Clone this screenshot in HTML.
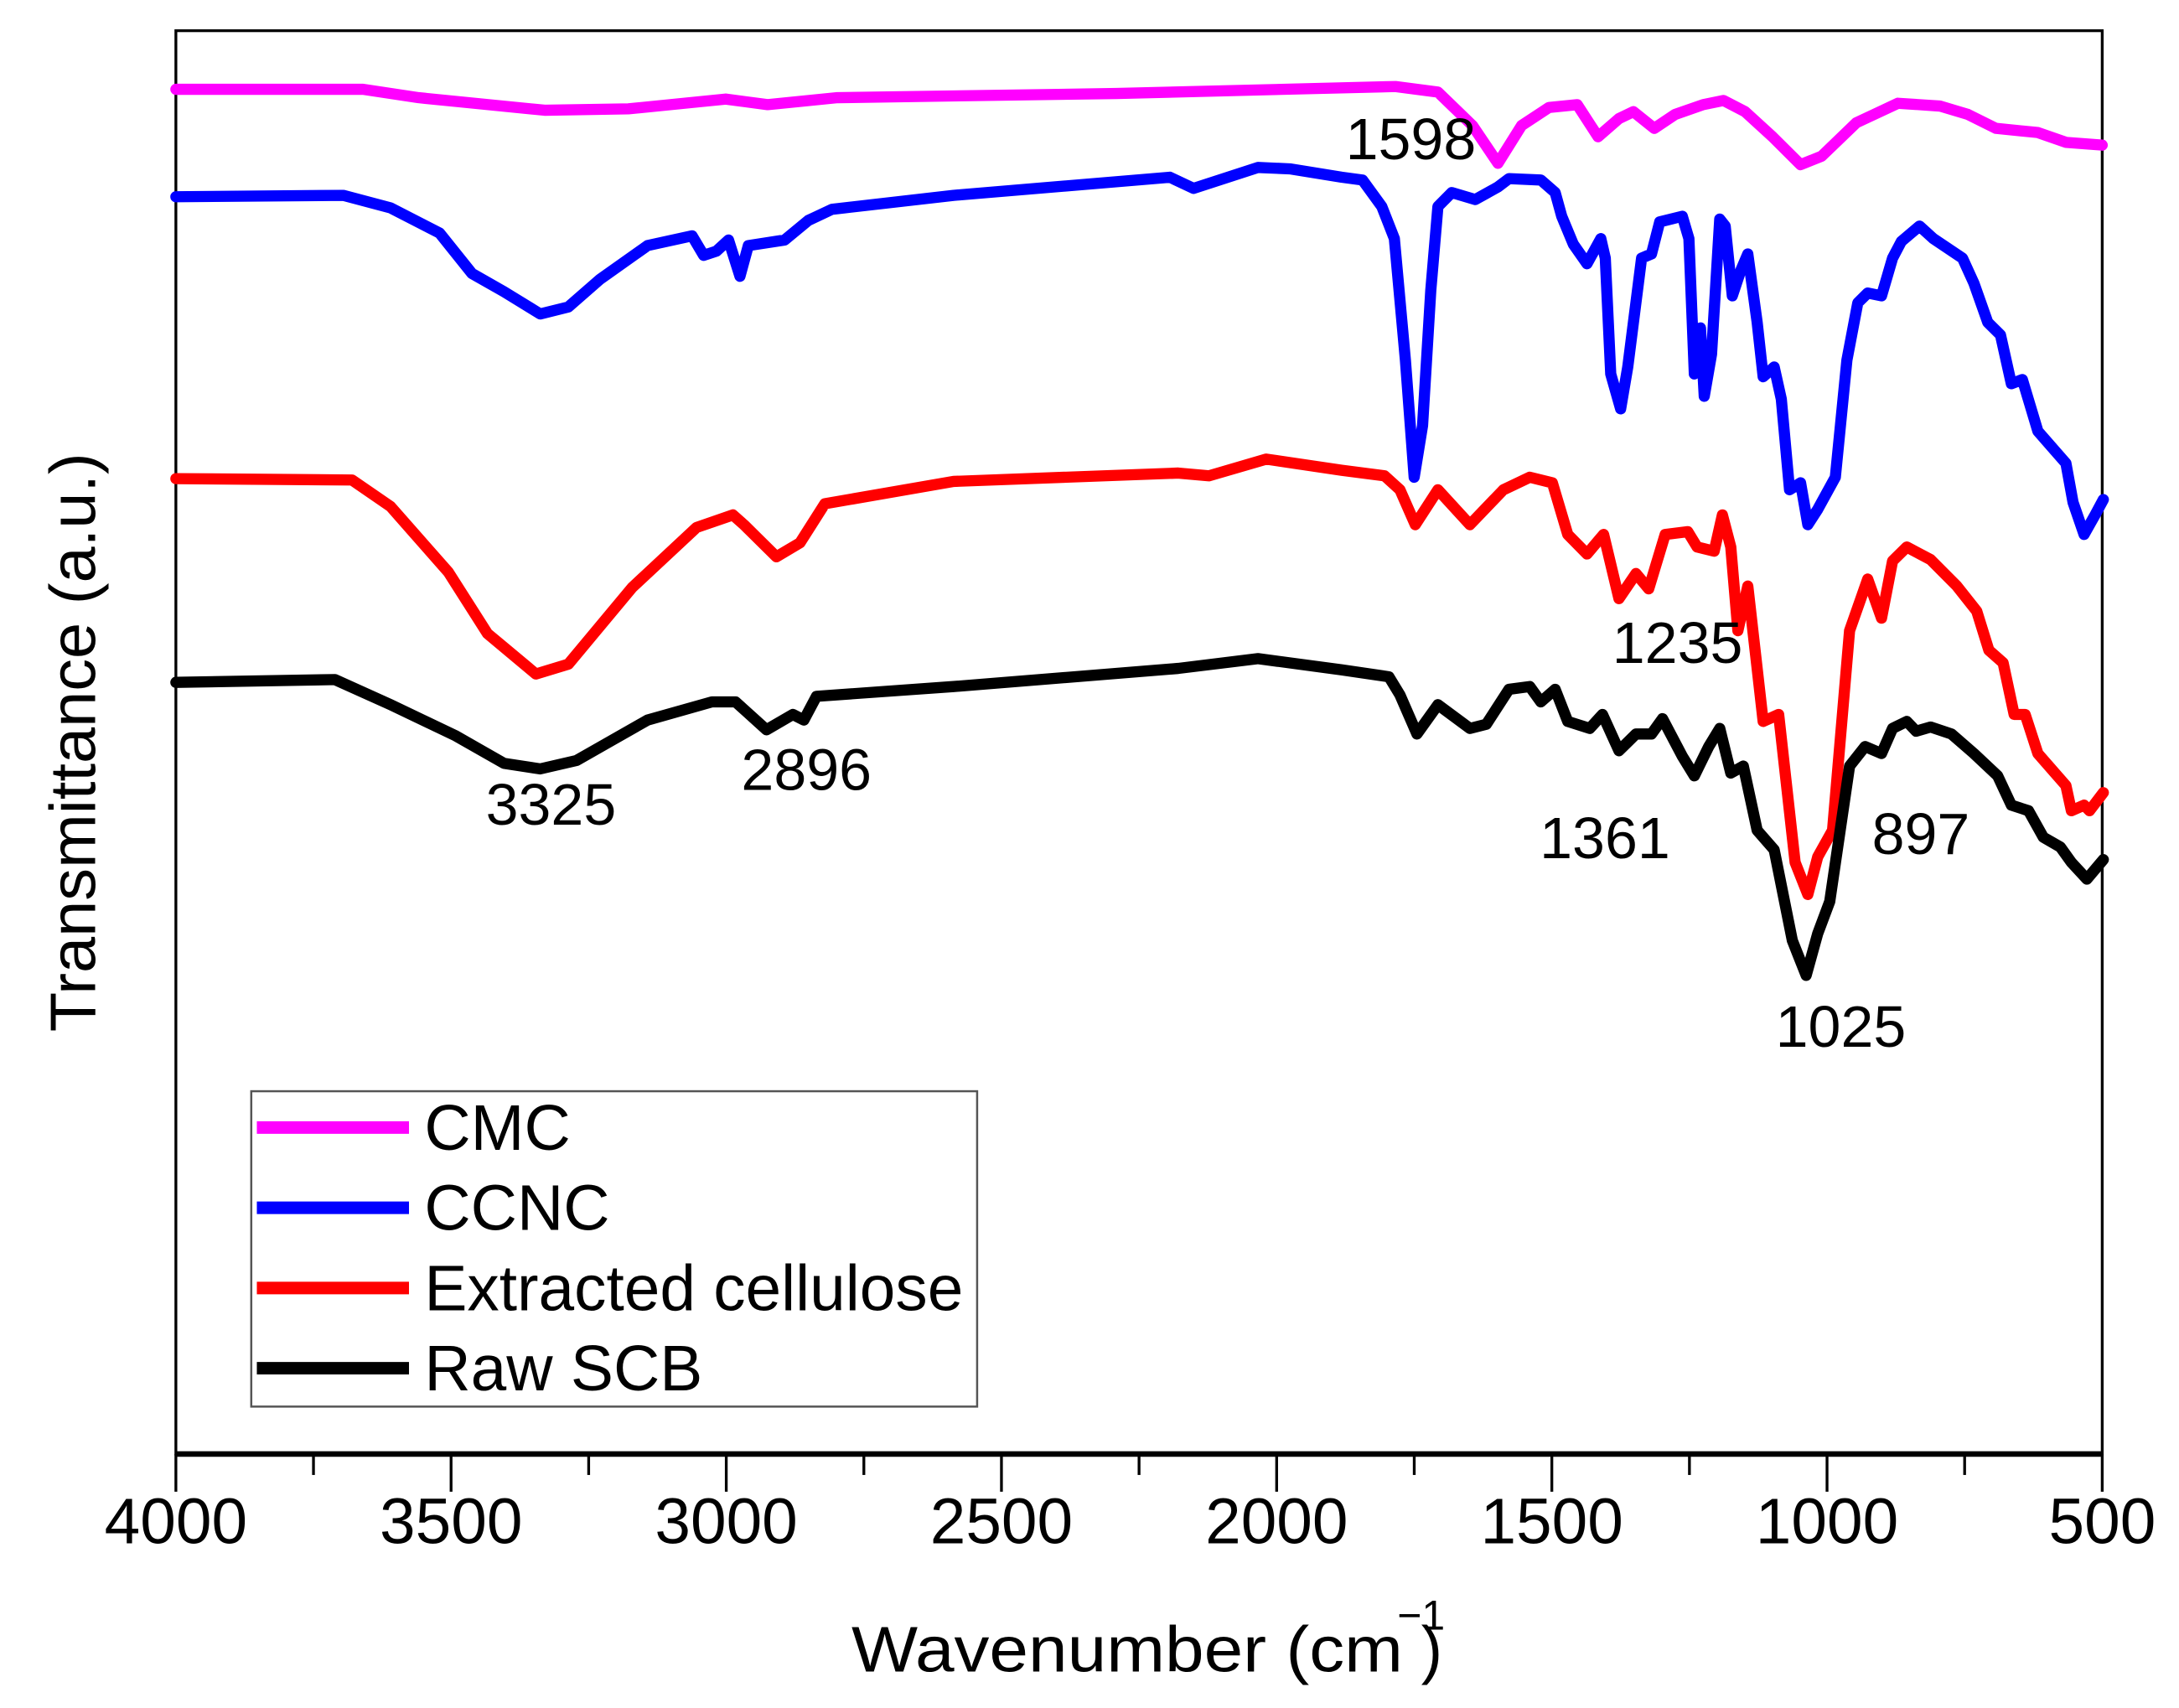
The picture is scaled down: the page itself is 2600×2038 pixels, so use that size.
<!DOCTYPE html>
<html><head><meta charset="utf-8"><style>
html,body{margin:0;padding:0;background:#fff;}
svg{display:block;}
text{font-family:"Liberation Sans",Arial,sans-serif;fill:#000;}
</style></head><body>
<svg id="chart" width="2600" height="2038" viewBox="0 0 1561 1224" preserveAspectRatio="none" xmlns="http://www.w3.org/2000/svg">
<rect x="0" y="0" width="1561" height="1224" fill="#fff"/>
<rect x="126" y="22" width="1380" height="1020" fill="none" stroke="#000" stroke-width="2"/>
<line x1="126" y1="1042" x2="1506" y2="1042" stroke="#000" stroke-width="4"/>
<g id="ticks"></g>
<g id="series"></g>
<text x="610" y="1198" font-size="46" textLength="395" lengthAdjust="spacingAndGlyphs">Wavenumber (cm</text>
<text x="1001" y="1168" font-size="30">−1</text>
<text x="1018" y="1198" font-size="46">)</text>
<text transform="translate(68,532) rotate(-90)" text-anchor="middle" font-size="46" textLength="415" lengthAdjust="spacingAndGlyphs">Transmittance (a.u.)</text>
<g font-size="42">
<text x="964" y="114">1598</text>
<text x="348" y="591">3325</text>
<text x="531" y="566">2896</text>
<text x="1155" y="475">1235</text>
<text x="1103" y="615">1361</text>
<text x="1341" y="612">897</text>
<text x="1272" y="750">1025</text>
</g>
<g>
<rect x="180" y="782" width="520" height="226" fill="#fff" stroke="#555" stroke-width="1.5"/>
<g id="legend-items"></g>
</g>
</svg>
<script>
const legendNames = ["CMC", "CCNC", "Extracted cellulose", "Raw SCB"];
const seriesColors = ["#ff00ff", "#0000ff", "#ff0000", "#000000"];
const xTicks = [4000, 3500, 3000, 2500, 2000, 1500, 1000, 500];
const xMinorTicks = [3750, 3250, 2750, 2250, 1750, 1250, 750];

const cmcWave = [4000,3660,3559,3330,3178,3001,2925,2798,2291,1784,1707,1644,1598,1555,1505,1454,1416,1378,1352,1314,1276,1225,1188,1149,1099,1048,1010,947,871,795,744,693,617,566,500];
const cmcVal = [978,978,972,963,964,971,967,972,975,980,976,952,925,952,965,967,944,957,962,950,960,967,970,962,944,924,930,954,968,966,960,950,947,940,938];

const ccncWave = [4000,3696,3610,3521,3462,3404,3338,3287,3229,3143,3062,3041,3018,2996,2975,2960,2894,2851,2808,2587,2194,2151,2034,1976,1882,1844,1809,1786,1766,1750,1735,1720,1707,1682,1639,1598,1578,1520,1494,1482,1461,1436,1411,1403,1393,1375,1362,1337,1319,1304,1263,1251,1241,1230,1223,1210,1195,1185,1172,1157,1144,1127,1116,1096,1083,1068,1048,1035,1017,985,964,944,926,901,881,865,832,807,754,733,708,685,665,645,617,586,566,553,533,513,498];
const ccncVal = [901,902,893,875,846,833,817,822,842,866,873,859,862,870,844,866,870,884,892,902,915,907,922,921,915,913,894,871,784,700,737,834,894,904,899,908,914,913,904,887,867,853,871,857,774,749,779,857,860,883,887,871,774,807,758,788,885,880,830,848,860,811,772,779,756,691,696,666,677,700,784,825,832,830,857,869,880,871,857,839,811,802,767,770,733,719,710,682,659,673,684];

const cellWave = [4000,3680,3610,3505,3434,3346,3287,3171,3054,2988,2968,2909,2866,2821,2587,2179,2123,2019,1882,1804,1776,1748,1707,1649,1588,1540,1499,1471,1436,1406,1378,1347,1324,1294,1253,1236,1205,1190,1175,1162,1144,1116,1088,1058,1035,1017,990,959,926,901,881,855,812,764,728,706,680,660,640,617,586,566,556,533,523,498];
const cellVal = [699,698,679,632,588,559,566,621,664,673,666,643,653,681,697,703,701,713,705,701,691,666,691,666,691,700,696,659,645,659,613,631,620,659,661,650,647,673,650,590,622,525,530,424,401,428,447,590,627,599,640,650,641,622,604,576,567,530,530,502,488,479,461,465,461,474];

const scbWave = [4000,3711,3610,3493,3404,3338,3272,3143,3026,2983,2927,2879,2859,2836,2587,2179,2034,1882,1796,1776,1745,1707,1649,1619,1578,1540,1520,1494,1471,1431,1408,1378,1347,1319,1299,1263,1241,1215,1195,1175,1152,1127,1096,1063,1038,1017,995,959,931,901,881,855,838,812,774,733,690,665,634,607,576,556,528,498];
const scbVal = [553,555,537,515,495,491,497,526,539,539,519,530,526,543,550,563,570,562,557,544,516,537,520,523,548,550,539,548,525,520,530,504,516,516,527,500,486,507,520,488,493,447,433,368,343,373,396,493,507,502,520,525,518,521,516,502,486,465,461,442,435,424,412,426];

const NS = "http://www.w3.org/2000/svg";
const X0 = 126, X1 = 1506, Y0 = 1042, Y1 = 22;
function xScale(w) { return X0 + (4000 - w) / 3500 * (X1 - X0); }
function yScale(v) { return Y0 - v / 1020 * (Y0 - Y1); }

const ticksG = document.getElementById("ticks");
xTicks.forEach(t => {
  const l = document.createElementNS(NS, "line");
  l.setAttribute("x1", xScale(t)); l.setAttribute("x2", xScale(t));
  l.setAttribute("y1", Y0); l.setAttribute("y2", Y0 + 27);
  l.setAttribute("stroke", "#000"); l.setAttribute("stroke-width", "2");
  
  
  ticksG.appendChild(l);
  const tx = document.createElementNS(NS, "text");
  tx.setAttribute("x", xScale(t)); tx.setAttribute("y", 1106);
  tx.setAttribute("text-anchor", "middle"); tx.setAttribute("font-size", "46");
  tx.textContent = t;
  
  
  ticksG.appendChild(tx);
});
xMinorTicks.forEach(t => {
  const l = document.createElementNS(NS, "line");
  l.setAttribute("x1", xScale(t)); l.setAttribute("x2", xScale(t));
  l.setAttribute("y1", Y0); l.setAttribute("y2", Y0 + 15);
  l.setAttribute("stroke", "#000"); l.setAttribute("stroke-width", "2");
  
  
  ticksG.appendChild(l);
});

const seriesG = document.getElementById("series");
const allSeries = [[cmcWave, cmcVal], [ccncWave, ccncVal], [cellWave, cellVal], [scbWave, scbVal]];
const seriesNames = ["cmc-line", "ccnc-line", "extracted-cellulose-line", "raw-scb-line"];
allSeries.forEach((s, i) => {
  const d = s[0].map((w, j) => (j ? "L" : "M") + xScale(w).toFixed(1) + "," + yScale(s[1][j]).toFixed(1)).join(" ");
  const p = document.createElementNS(NS, "path");
  p.setAttribute("d", d);
  p.setAttribute("fill", "none");
  p.setAttribute("stroke", seriesColors[i]);
  p.setAttribute("stroke-width", "8");
  p.setAttribute("stroke-linejoin", "round");
  p.setAttribute("stroke-linecap", "round");
  
  
  seriesG.appendChild(p);
});

const legG = document.getElementById("legend-items");
legendNames.forEach((n, i) => {
  const y = 808 + i * 57.5;
  const l = document.createElementNS(NS, "line");
  l.setAttribute("x1", 184); l.setAttribute("x2", 293);
  l.setAttribute("y1", y); l.setAttribute("y2", y);
  l.setAttribute("stroke", seriesColors[i]); l.setAttribute("stroke-width", "9");
  
  
  legG.appendChild(l);
  const t = document.createElementNS(NS, "text");
  t.setAttribute("x", 304); t.setAttribute("y", y + 16);
  t.setAttribute("font-size", "46");
  t.textContent = n;
  
  
  legG.appendChild(t);
});
</script>
</body></html>
